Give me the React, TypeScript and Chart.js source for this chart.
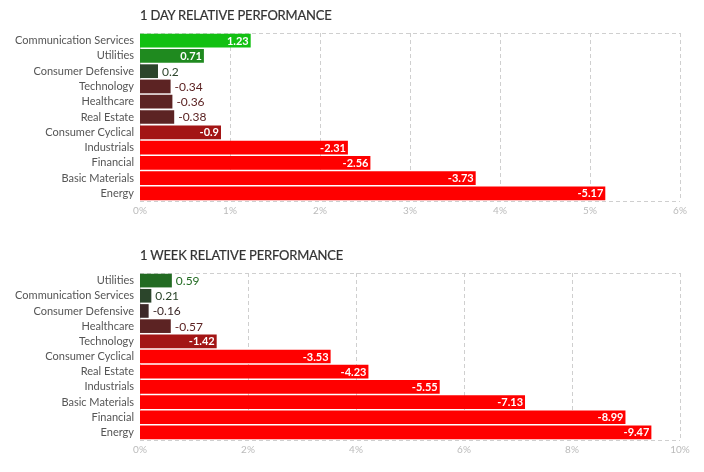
import React, { useEffect, useRef } from "react";
import { Chart, registerables } from "chart.js";

Chart.register(...registerables);

const dayCategories = ["Communication Services", "Utilities", "Consumer Defensive", "Technology", "Healthcare", "Real Estate", "Consumer Cyclical", "Industrials", "Financial", "Basic Materials", "Energy"];
const dayValues = [1.23, 0.71, 0.2, -0.34, -0.36, -0.38, -0.9, -2.31, -2.56, -3.73, -5.17];
const dayTicks = [0, 1, 2, 3, 4, 5, 6];

const weekCategories = ["Utilities", "Communication Services", "Consumer Defensive", "Healthcare", "Technology", "Consumer Cyclical", "Real Estate", "Industrials", "Basic Materials", "Financial", "Energy"];
const weekValues = [0.59, 0.21, -0.16, -0.57, -1.42, -3.53, -4.23, -5.55, -7.13, -8.99, -9.47];
const weekTicks = [0, 2, 4, 6, 8, 10];

const FONT = "Lato, 'Open Sans', sans-serif";

function colorFor(v: number): string {
  if (v >= 1) return "#12c012";
  if (v >= 0.65) return "#1f8a1f";
  if (v >= 0.4) return "#226b22";
  if (v > 0) return "#2b452b";
  if (v > -0.2) return "#3c2828";
  if (v > -0.7) return "#5c2323";
  if (v > -2) return "#a31515";
  return "#ff0000";
}

const labelPlugin = {
  id: "valueLabels",
  afterDatasetsDraw(chart: any) {
    const ctx = chart.ctx;
    const meta = chart.getDatasetMeta(0);
    const raw: number[] = chart.data.datasets[0].rawValues;
    ctx.save();
    ctx.textBaseline = "middle";
    meta.data.forEach((bar: any, i: number) => {
      const v = raw[i];
      const text = String(v);
      const width = bar.x - bar.base;
      ctx.font = `bold 11px ${FONT}`;
      const tw = ctx.measureText(text).width;
      if (width >= tw + 12) {
        ctx.fillStyle = "#ffffff";
        ctx.textAlign = "right";
        ctx.fillText(text, bar.x - 2, bar.y + 0.5);
      } else {
        ctx.font = `12px ${FONT}`;
        ctx.fillStyle = colorFor(v);
        ctx.textAlign = "left";
        ctx.fillText(text, bar.x + 4, bar.y + 0.5);
      }
    });
    ctx.restore();
  },
};

const gridPlugin = {
  id: "dashGrid",
  beforeDatasetsDraw(chart: any) {
    const { ctx, chartArea } = chart;
    const xs = chart.scales.x;
    ctx.save();
    ctx.strokeStyle = "#cfcfcf";
    ctx.lineWidth = 1;
    ctx.setLineDash([4, 3]);
    xs.ticks.forEach((t: any) => {
      const x = Math.round(xs.getPixelForValue(t.value)) + 0.5;
      ctx.beginPath();
      ctx.moveTo(x, chartArea.top);
      ctx.lineTo(x, chartArea.bottom);
      ctx.stroke();
    });
    const top = Math.round(chartArea.top) + 0.5;
    const bottom = Math.round(chartArea.bottom) + 0.5;
    ctx.beginPath();
    ctx.moveTo(chartArea.left, top);
    ctx.lineTo(chartArea.right, top);
    ctx.stroke();
    ctx.beginPath();
    ctx.moveTo(chartArea.left, bottom);
    ctx.lineTo(chartArea.right, bottom);
    ctx.stroke();
    ctx.restore();
  },
};

function makeConfig(categories: string[], values: number[], ticks: number[], padBottom: number): any {
  const max = ticks[ticks.length - 1];
  const step = ticks[1] - ticks[0];
  return {
    type: "bar",
    data: {
      labels: categories,
      datasets: [
        {
          data: values.map((v) => Math.abs(v)),
          rawValues: values,
          backgroundColor: values.map(colorFor),
          barPercentage: 0.9,
          categoryPercentage: 1,
        },
      ],
    },
    options: {
      indexAxis: "y",
      animation: false,
      responsive: false,
      maintainAspectRatio: false,
      layout: { padding: { top: 33, right: 24, bottom: padBottom, left: 0 } },
      plugins: { legend: { display: false }, tooltip: { enabled: false }, title: { display: false } },
      scales: {
        x: {
          min: 0,
          max,
          ticks: {
            stepSize: step,
            callback: (v: number) => v + "%",
            color: "#bbbbbb",
            font: { family: FONT, size: 10 },
            padding: 4,
          },
          grid: { display: false, drawTicks: false },
          border: { display: false },
        },
        y: {
          afterFit: (scale: any) => {
            scale.width = 140;
          },
          ticks: { color: "#555555", font: { family: FONT, size: 11 }, padding: 6, autoSkip: false },
          grid: { display: false, drawTicks: false },
          border: { display: false },
        },
      },
    },
    plugins: [labelPlugin, gridPlugin],
  };
}

function Panel({ title, categories, values, ticks, top, height, padBottom }: any) {
  const ref = useRef<HTMLCanvasElement>(null);
  useEffect(() => {
    const chart = new Chart(ref.current as HTMLCanvasElement, makeConfig(categories, values, ticks, padBottom));
    return () => chart.destroy();
  }, []);
  return (
    <div style={{ position: "absolute", left: 0, top, width: 704, height }}>
      <canvas ref={ref} width={704} height={height} style={{ position: "absolute", left: 0, top: 0 }} />
      <div
        style={{
          position: "absolute",
          left: 140,
          top: 7,
          fontFamily: FONT,
          fontSize: 13,
          color: "#333333",
          letterSpacing: "-0.2px",
          whiteSpace: "nowrap",
          WebkitTextStroke: "0.2px #333333",
        }}
      >
        {title}
      </div>
    </div>
  );
}

export default function App() {
  useEffect(() => {
    document.body.style.margin = "0";
  }, []);
  return (
    <div style={{ position: "relative", width: 704, height: 472, background: "#fff", overflow: "hidden" }}>
      <Panel title="1 DAY RELATIVE PERFORMANCE" categories={dayCategories} values={dayValues} ticks={dayTicks} top={0} height={232} padBottom={11} />
      <Panel title="1 WEEK RELATIVE PERFORMANCE" categories={weekCategories} values={weekValues} ticks={weekTicks} top={240} height={232} padBottom={12} />
    </div>
  );
}
